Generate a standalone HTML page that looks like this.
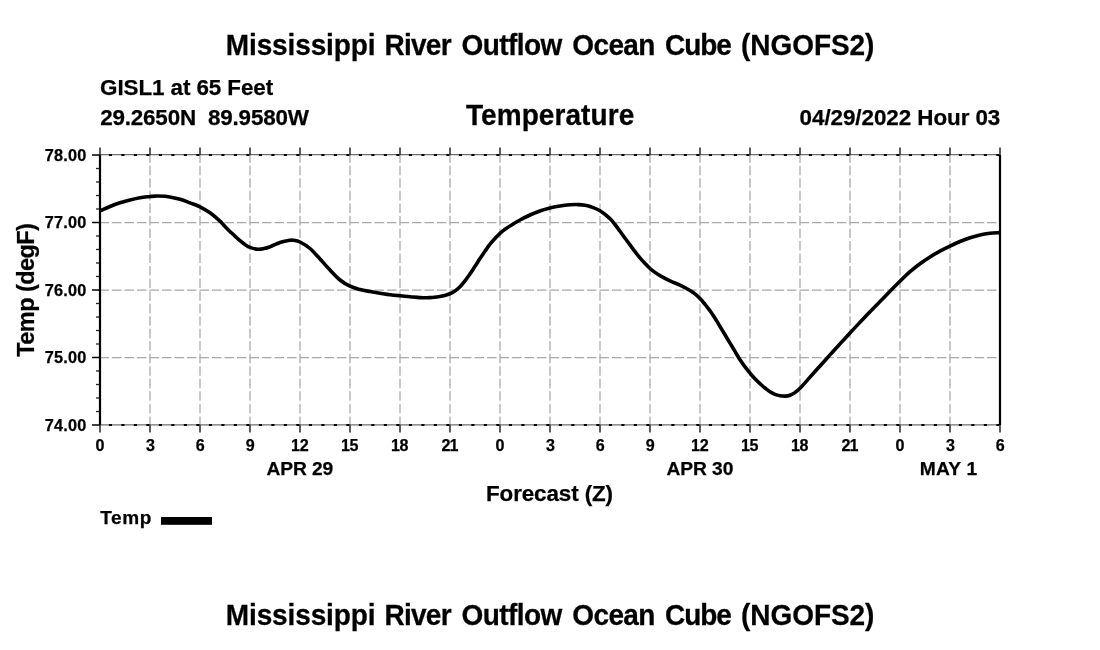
<!DOCTYPE html>
<html><head><meta charset="utf-8"><title>Temperature</title>
<style>html,body{margin:0;padding:0;background:#fff;}svg{display:block;filter:grayscale(1);}text{font-family:"Liberation Sans",sans-serif;font-weight:bold;fill:#000;stroke:#000;stroke-width:0.25px;}</style>
</head><body>
<svg width="1100" height="650" viewBox="0 0 1100 650">
<rect width="1100" height="650" fill="#fff"/>
<g stroke="#a8a8a8" stroke-width="1.25" fill="none">
<line x1="150" y1="155" x2="150" y2="425" stroke-dasharray="9.5 3.03" stroke-dashoffset="1.7"/>
<line x1="200" y1="155" x2="200" y2="425" stroke-dasharray="9.5 3.03" stroke-dashoffset="1.7"/>
<line x1="250" y1="155" x2="250" y2="425" stroke-dasharray="9.5 3.03" stroke-dashoffset="1.7"/>
<line x1="300" y1="155" x2="300" y2="425" stroke-dasharray="9.5 3.03" stroke-dashoffset="1.7"/>
<line x1="350" y1="155" x2="350" y2="425" stroke-dasharray="9.5 3.03" stroke-dashoffset="1.7"/>
<line x1="400" y1="155" x2="400" y2="425" stroke-dasharray="9.5 3.03" stroke-dashoffset="1.7"/>
<line x1="450" y1="155" x2="450" y2="425" stroke-dasharray="9.5 3.03" stroke-dashoffset="1.7"/>
<line x1="500" y1="155" x2="500" y2="425" stroke-dasharray="9.5 3.03" stroke-dashoffset="1.7"/>
<line x1="550" y1="155" x2="550" y2="425" stroke-dasharray="9.5 3.03" stroke-dashoffset="1.7"/>
<line x1="600" y1="155" x2="600" y2="425" stroke-dasharray="9.5 3.03" stroke-dashoffset="1.7"/>
<line x1="650" y1="155" x2="650" y2="425" stroke-dasharray="9.5 3.03" stroke-dashoffset="1.7"/>
<line x1="700" y1="155" x2="700" y2="425" stroke-dasharray="9.5 3.03" stroke-dashoffset="1.7"/>
<line x1="750" y1="155" x2="750" y2="425" stroke-dasharray="9.5 3.03" stroke-dashoffset="1.7"/>
<line x1="800" y1="155" x2="800" y2="425" stroke-dasharray="9.5 3.03" stroke-dashoffset="1.7"/>
<line x1="850" y1="155" x2="850" y2="425" stroke-dasharray="9.5 3.03" stroke-dashoffset="1.7"/>
<line x1="900" y1="155" x2="900" y2="425" stroke-dasharray="9.5 3.03" stroke-dashoffset="1.7"/>
<line x1="950" y1="155" x2="950" y2="425" stroke-dasharray="9.5 3.03" stroke-dashoffset="1.7"/>
<line x1="99.5" y1="222.5" x2="1000" y2="222.5" stroke-dasharray="9.5 3"/>
<line x1="99.5" y1="290" x2="1000" y2="290" stroke-dasharray="9.5 3"/>
<line x1="99.5" y1="357.5" x2="1000" y2="357.5" stroke-dasharray="9.5 3"/>
</g>
<g stroke="#6e6e6e" stroke-width="1.3">
<line x1="100" y1="154.7" x2="1000" y2="154.7"/>
<line x1="100" y1="424.8" x2="1000" y2="424.8"/>
</g>
<g stroke="#000" stroke-width="1.8" stroke-dasharray="3.1 9.4">
<line x1="108.85" y1="155" x2="1000" y2="155"/>
<line x1="108.85" y1="425" x2="1000" y2="425"/>
</g>
<g stroke="#333" stroke-width="1.6">
<line x1="100" y1="147.5" x2="100" y2="155"/>
<line x1="100" y1="425" x2="100" y2="432.5"/>
<line x1="150" y1="147.5" x2="150" y2="155"/>
<line x1="150" y1="425" x2="150" y2="432.5"/>
<line x1="200" y1="147.5" x2="200" y2="155"/>
<line x1="200" y1="425" x2="200" y2="432.5"/>
<line x1="250" y1="147.5" x2="250" y2="155"/>
<line x1="250" y1="425" x2="250" y2="432.5"/>
<line x1="300" y1="147.5" x2="300" y2="155"/>
<line x1="300" y1="425" x2="300" y2="432.5"/>
<line x1="350" y1="147.5" x2="350" y2="155"/>
<line x1="350" y1="425" x2="350" y2="432.5"/>
<line x1="400" y1="147.5" x2="400" y2="155"/>
<line x1="400" y1="425" x2="400" y2="432.5"/>
<line x1="450" y1="147.5" x2="450" y2="155"/>
<line x1="450" y1="425" x2="450" y2="432.5"/>
<line x1="500" y1="147.5" x2="500" y2="155"/>
<line x1="500" y1="425" x2="500" y2="432.5"/>
<line x1="550" y1="147.5" x2="550" y2="155"/>
<line x1="550" y1="425" x2="550" y2="432.5"/>
<line x1="600" y1="147.5" x2="600" y2="155"/>
<line x1="600" y1="425" x2="600" y2="432.5"/>
<line x1="650" y1="147.5" x2="650" y2="155"/>
<line x1="650" y1="425" x2="650" y2="432.5"/>
<line x1="700" y1="147.5" x2="700" y2="155"/>
<line x1="700" y1="425" x2="700" y2="432.5"/>
<line x1="750" y1="147.5" x2="750" y2="155"/>
<line x1="750" y1="425" x2="750" y2="432.5"/>
<line x1="800" y1="147.5" x2="800" y2="155"/>
<line x1="800" y1="425" x2="800" y2="432.5"/>
<line x1="850" y1="147.5" x2="850" y2="155"/>
<line x1="850" y1="425" x2="850" y2="432.5"/>
<line x1="900" y1="147.5" x2="900" y2="155"/>
<line x1="900" y1="425" x2="900" y2="432.5"/>
<line x1="950" y1="147.5" x2="950" y2="155"/>
<line x1="950" y1="425" x2="950" y2="432.5"/>
<line x1="1000" y1="147.5" x2="1000" y2="155"/>
<line x1="1000" y1="425" x2="1000" y2="432.5"/>
</g>
<g stroke="#222" stroke-width="1.3">
<line x1="92" y1="155" x2="100" y2="155" stroke="#000" stroke-width="1.5"/>
<line x1="96" y1="168.5" x2="100" y2="168.5"/>
<line x1="96" y1="182" x2="100" y2="182"/>
<line x1="96" y1="195.5" x2="100" y2="195.5"/>
<line x1="96" y1="209" x2="100" y2="209"/>
<line x1="92" y1="222.5" x2="100" y2="222.5" stroke="#000" stroke-width="1.5"/>
<line x1="96" y1="236" x2="100" y2="236"/>
<line x1="96" y1="249.5" x2="100" y2="249.5"/>
<line x1="96" y1="263" x2="100" y2="263"/>
<line x1="96" y1="276.5" x2="100" y2="276.5"/>
<line x1="92" y1="290" x2="100" y2="290" stroke="#000" stroke-width="1.5"/>
<line x1="96" y1="303.5" x2="100" y2="303.5"/>
<line x1="96" y1="317" x2="100" y2="317"/>
<line x1="96" y1="330.5" x2="100" y2="330.5"/>
<line x1="96" y1="344" x2="100" y2="344"/>
<line x1="92" y1="357.5" x2="100" y2="357.5" stroke="#000" stroke-width="1.5"/>
<line x1="96" y1="371" x2="100" y2="371"/>
<line x1="96" y1="384.5" x2="100" y2="384.5"/>
<line x1="96" y1="398" x2="100" y2="398"/>
<line x1="96" y1="411.5" x2="100" y2="411.5"/>
<line x1="92" y1="425" x2="100" y2="425" stroke="#000" stroke-width="1.5"/>
</g>
<g stroke="#000" stroke-width="2.2">
<line x1="100" y1="155" x2="100" y2="425"/>
<line x1="1000" y1="155" x2="1000" y2="425"/>
</g>
<path d="M100.0 210.9 C103.3 209.4 106.7 207.8 110.0 206.5 C113.3 205.2 116.7 203.9 120.0 202.8 C123.3 201.7 126.7 200.8 130.0 200.0 C133.3 199.2 136.7 198.4 140.0 197.8 C143.3 197.2 146.7 196.9 150.0 196.5 C152.3 196.3 154.7 196.0 157.0 196.0 C159.7 196.0 162.3 196.1 165.0 196.3 C166.7 196.4 168.3 196.7 170.0 197.0 C173.3 197.7 176.7 198.3 180.0 199.3 C183.3 200.3 186.7 201.6 190.0 202.8 C193.3 204.1 196.7 205.1 200.0 206.8 C203.3 208.5 206.7 210.4 210.0 212.8 C213.3 215.2 216.7 218.1 220.0 221.1 C221.7 222.6 223.3 224.8 225.0 226.5 C226.7 228.2 228.3 229.9 230.0 231.5 C231.7 233.1 233.3 234.7 235.0 236.2 C236.7 237.7 238.3 239.3 240.0 240.7 C241.7 242.1 243.3 243.5 245.0 244.6 C246.7 245.7 248.3 246.8 250.0 247.4 C252.7 248.4 255.3 249.1 258.0 249.3 C260.3 249.4 262.7 248.8 265.0 248.3 C266.7 248.0 268.3 247.4 270.0 246.8 C273.3 245.5 276.7 243.6 280.0 242.5 C283.3 241.4 286.7 240.9 290.0 240.3 C291.0 240.1 292.0 240.0 293.0 240.2 C295.3 240.6 297.7 240.9 300.0 242.0 C303.3 243.6 306.7 245.7 310.0 248.5 C313.3 251.3 316.7 255.4 320.0 259.0 C323.3 262.6 326.7 266.5 330.0 270.0 C333.3 273.5 336.7 277.3 340.0 280.0 C343.3 282.7 346.7 284.6 350.0 286.2 C353.3 287.8 356.7 288.6 360.0 289.5 C363.3 290.4 366.7 290.9 370.0 291.5 C373.3 292.1 376.7 292.7 380.0 293.2 C383.3 293.7 386.7 294.3 390.0 294.7 C393.3 295.1 396.7 295.4 400.0 295.7 C403.3 296.0 406.7 296.4 410.0 296.7 C413.3 297.0 416.7 297.4 420.0 297.6 C421.7 297.7 423.3 297.8 425.0 297.8 C426.7 297.8 428.3 297.7 430.0 297.6 C433.3 297.3 436.7 297.1 440.0 296.5 C443.3 295.9 446.7 294.9 450.0 293.7 C451.7 293.1 453.3 292.0 455.0 290.9 C456.7 289.8 458.3 288.5 460.0 286.8 C461.7 285.1 463.3 283.0 465.0 280.8 C466.7 278.6 468.3 276.3 470.0 273.9 C471.7 271.5 473.3 268.9 475.0 266.3 C476.7 263.8 478.3 261.1 480.0 258.6 C481.7 256.1 483.3 253.7 485.0 251.3 C486.7 248.9 488.3 246.2 490.0 244.1 C491.7 241.9 493.3 240.2 495.0 238.4 C496.7 236.6 498.3 234.8 500.0 233.3 C501.7 231.8 503.3 230.5 505.0 229.3 C506.7 228.1 508.3 227.0 510.0 226.0 C513.3 223.9 516.7 221.8 520.0 220.0 C523.3 218.2 526.7 216.5 530.0 215.0 C533.3 213.5 536.7 212.2 540.0 211.0 C543.3 209.8 546.7 208.8 550.0 208.0 C553.3 207.2 556.7 206.5 560.0 206.0 C563.3 205.5 566.7 205.1 570.0 204.8 C572.7 204.6 575.3 204.5 578.0 204.6 C580.3 204.7 582.7 204.8 585.0 205.2 C586.7 205.5 588.3 205.9 590.0 206.5 C593.3 207.7 596.7 208.7 600.0 210.7 C603.3 212.7 606.7 215.5 610.0 218.6 C611.7 220.1 613.3 222.4 615.0 224.5 C616.7 226.6 618.3 229.0 620.0 231.3 C621.7 233.6 623.3 235.8 625.0 238.1 C626.7 240.3 628.3 242.6 630.0 244.8 C631.7 247.1 633.3 249.4 635.0 251.6 C636.7 253.8 638.3 255.9 640.0 257.9 C641.7 259.9 643.3 261.7 645.0 263.5 C646.7 265.3 648.3 267.0 650.0 268.5 C651.7 270.0 653.3 271.2 655.0 272.4 C656.7 273.6 658.3 274.7 660.0 275.6 C663.3 277.5 666.7 279.3 670.0 280.9 C673.3 282.5 676.7 283.5 680.0 285.1 C683.3 286.7 686.7 288.5 690.0 290.5 C691.7 291.5 693.3 292.5 695.0 293.9 C696.7 295.2 698.3 296.9 700.0 298.6 C701.7 300.3 703.3 302.3 705.0 304.3 C706.7 306.3 708.3 308.5 710.0 310.8 C711.7 313.1 713.3 315.6 715.0 318.2 C716.7 320.8 718.3 323.7 720.0 326.5 C721.7 329.3 723.3 332.0 725.0 334.8 C726.7 337.6 728.3 340.3 730.0 343.1 C731.7 345.9 733.3 348.6 735.0 351.4 C736.7 354.2 738.3 357.2 740.0 359.8 C741.7 362.4 743.3 364.6 745.0 366.8 C746.7 369.0 748.3 371.2 750.0 373.2 C751.7 375.2 753.3 377.1 755.0 378.8 C756.7 380.6 758.3 382.2 760.0 383.7 C761.7 385.2 763.3 386.7 765.0 388.0 C766.7 389.3 768.3 390.6 770.0 391.7 C771.7 392.8 773.3 393.6 775.0 394.3 C776.7 395.0 778.3 395.4 780.0 395.7 C781.7 396.0 783.3 396.2 785.0 396.1 C786.7 396.0 788.3 395.8 790.0 395.2 C791.7 394.6 793.3 393.8 795.0 392.6 C796.7 391.5 798.3 390.0 800.0 388.3 C803.3 384.9 806.7 380.8 810.0 377.1 C813.3 373.4 816.7 369.7 820.0 366.0 C823.3 362.3 826.7 358.6 830.0 354.9 C833.3 351.2 836.7 347.5 840.0 343.9 C843.3 340.2 846.7 336.6 850.0 333.0 C853.3 329.4 856.7 325.8 860.0 322.3 C863.3 318.8 866.7 315.3 870.0 311.8 C873.3 308.3 876.7 304.9 880.0 301.5 C883.3 298.1 886.7 294.7 890.0 291.3 C893.3 287.9 896.7 284.6 900.0 281.3 C903.3 278.0 906.7 274.6 910.0 271.7 C913.3 268.8 916.7 266.2 920.0 263.7 C923.3 261.2 926.7 259.0 930.0 256.9 C933.3 254.8 936.7 252.9 940.0 251.1 C943.3 249.3 946.7 247.7 950.0 246.1 C953.3 244.5 956.7 242.9 960.0 241.5 C963.3 240.1 966.7 238.9 970.0 237.8 C973.3 236.7 976.7 235.8 980.0 235.0 C983.3 234.2 986.7 233.7 990.0 233.3 C993.3 232.9 996.7 232.8 1000.0 232.6" fill="none" stroke="#000" stroke-width="3.6" stroke-linejoin="round" stroke-linecap="butt"/>
<text transform="translate(0,54.90) scale(1,1.0400)" y="0" font-size="28" xml:space="preserve"><tspan x="225.81" letter-spacing="-0.117">Mississippi </tspan><tspan x="384.41" letter-spacing="-0.715">River </tspan><tspan x="461.58" letter-spacing="-0.585">Outflow </tspan><tspan x="572.28" letter-spacing="-0.603">Ocean </tspan><tspan x="664.98" letter-spacing="-1.023">Cube </tspan><tspan x="741.10" letter-spacing="-0.053">(NGOFS2)</tspan></text>
<text transform="translate(0,624.90) scale(1,1.0400)" y="0" font-size="28" xml:space="preserve"><tspan x="225.81" letter-spacing="-0.117">Mississippi </tspan><tspan x="384.41" letter-spacing="-0.715">River </tspan><tspan x="461.58" letter-spacing="-0.585">Outflow </tspan><tspan x="572.28" letter-spacing="-0.603">Ocean </tspan><tspan x="664.98" letter-spacing="-1.023">Cube </tspan><tspan x="741.10" letter-spacing="-0.053">(NGOFS2)</tspan></text>
<text x="100.10" y="94.60" font-size="22.4" letter-spacing="-0.080" xml:space="preserve">GISL1 at 65 Feet</text>
<text x="100.22" y="124.60" font-size="22.4" letter-spacing="-0.176" xml:space="preserve">29.2650N  89.9580W</text>
<text transform="translate(0,125.00) scale(1,1.0400)" y="0" font-size="28" xml:space="preserve"><tspan x="466.02" letter-spacing="0.078">Temperature</tspan></text>
<text x="799.60" y="124.60" font-size="22.4" letter-spacing="-0.055" xml:space="preserve">04/29/2022 Hour 03</text>
<text x="44.81" y="160.70" font-size="16.3" letter-spacing="0.163" xml:space="preserve">78.00</text>
<text x="44.81" y="228.20" font-size="16.3" letter-spacing="0.163" xml:space="preserve">77.00</text>
<text x="44.81" y="295.70" font-size="16.3" letter-spacing="0.163" xml:space="preserve">76.00</text>
<text x="44.81" y="363.20" font-size="16.3" letter-spacing="0.163" xml:space="preserve">75.00</text>
<text x="44.81" y="430.70" font-size="16.3" letter-spacing="0.163" xml:space="preserve">74.00</text>
<text x="95.61" y="450.80" font-size="16.1" letter-spacing="0.000" xml:space="preserve">0</text>
<text x="145.89" y="450.80" font-size="16.1" letter-spacing="0.000" xml:space="preserve">3</text>
<text x="195.65" y="450.80" font-size="16.1" letter-spacing="0.000" xml:space="preserve">6</text>
<text x="245.69" y="450.80" font-size="16.1" letter-spacing="0.000" xml:space="preserve">9</text>
<text x="290.99" y="450.80" font-size="16.1" letter-spacing="-0.221" xml:space="preserve">12</text>
<text x="340.99" y="450.80" font-size="16.1" letter-spacing="-0.422" xml:space="preserve">15</text>
<text x="390.99" y="450.80" font-size="16.1" letter-spacing="-0.382" xml:space="preserve">18</text>
<text x="441.44" y="450.80" font-size="16.1" letter-spacing="-0.865" xml:space="preserve">21</text>
<text x="495.61" y="450.80" font-size="16.1" letter-spacing="0.000" xml:space="preserve">0</text>
<text x="545.89" y="450.80" font-size="16.1" letter-spacing="0.000" xml:space="preserve">3</text>
<text x="595.65" y="450.80" font-size="16.1" letter-spacing="0.000" xml:space="preserve">6</text>
<text x="645.69" y="450.80" font-size="16.1" letter-spacing="0.000" xml:space="preserve">9</text>
<text x="690.99" y="450.80" font-size="16.1" letter-spacing="-0.221" xml:space="preserve">12</text>
<text x="740.99" y="450.80" font-size="16.1" letter-spacing="-0.422" xml:space="preserve">15</text>
<text x="790.99" y="450.80" font-size="16.1" letter-spacing="-0.382" xml:space="preserve">18</text>
<text x="841.44" y="450.80" font-size="16.1" letter-spacing="-0.865" xml:space="preserve">21</text>
<text x="895.61" y="450.80" font-size="16.1" letter-spacing="0.000" xml:space="preserve">0</text>
<text x="945.89" y="450.80" font-size="16.1" letter-spacing="0.000" xml:space="preserve">3</text>
<text x="995.65" y="450.80" font-size="16.1" letter-spacing="0.000" xml:space="preserve">6</text>
<text x="266.52" y="474.70" font-size="19.2" letter-spacing="-0.090" xml:space="preserve">APR 29</text>
<text x="666.52" y="474.70" font-size="19.2" letter-spacing="-0.070" xml:space="preserve">APR 30</text>
<text x="919.70" y="474.70" font-size="19.2" letter-spacing="0.220" xml:space="preserve">MAY 1</text>
<text x="485.99" y="500.60" font-size="22.4" letter-spacing="-0.096" xml:space="preserve">Forecast (Z)</text>
<text x="100.31" y="524.40" font-size="19" letter-spacing="0.631" xml:space="preserve">Temp</text>
<rect x="161" y="517" width="51" height="7.8" fill="#000"/>
<text transform="translate(34.10,356.74) rotate(-90)" font-size="23.5" letter-spacing="-0.563" xml:space="preserve">Temp (degF)</text>
</svg>
</body></html>
